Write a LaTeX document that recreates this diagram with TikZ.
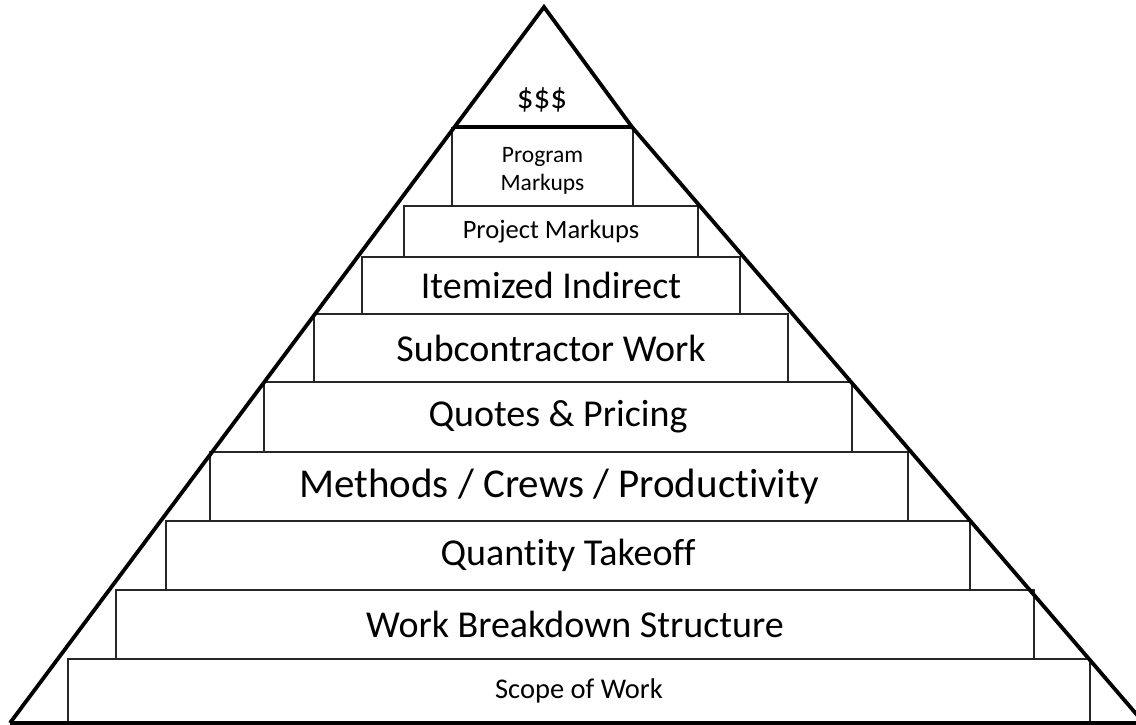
\documentclass[tikz,border=0pt]{standalone}
\usepackage{fontspec}
\setmainfont{Carlito}[Ligatures=NoCommon]
\begin{document}
\begin{tikzpicture}[x=1pt,y=-1pt,
  tier/.style={draw=black!85, line width=1.2pt, fill=white, inner sep=0pt,
    anchor=center, align=center, font=\fontsize{38}{44}\selectfont},
  edge/.style={line width=3.8pt, line join=miter, line cap=butt}]
\useasboundingbox (0,0) rectangle (1136,725);
% tiers, bottom to top
\node[tier, minimum width=1022pt, minimum height=64pt, font=\fontsize{28.5}{34}\selectfont] (scope) at (579,691) {Scope of Work};
\node[tier, minimum width=918pt, minimum height=69pt] (wbs) at (575,624.5) {Work Breakdown Structure};
\node[tier, minimum width=804pt, minimum height=69pt] (qto) at (568,555.5) {Quantity Takeoff};
\node[tier, minimum width=698pt, minimum height=69pt, font=\fontsize{41}{47}\selectfont] (mcp) at (559,486.5) {Methods / Crews / Productivity};
\node[tier, minimum width=588pt, minimum height=70pt] (qp) at (558,417) {Quotes \& Pricing};
\node[tier, minimum width=474pt, minimum height=68pt] (sub) at (551,348) {Subcontractor Work};
\node[tier, minimum width=378pt, minimum height=57pt] (ind) at (551,285.5) {Itemized Indirect};
\node[tier, minimum width=294pt, minimum height=51pt, font=\fontsize{26.5}{30}\selectfont] (prj) at (551,231.5) {Project Markups};
\node[tier, minimum width=181pt, minimum height=78pt] (prg) at (542.5,167) {};
\node[align=center, inner sep=0pt, font=\fontsize{23.5}{28}\selectfont] (prgtext) at (542.5,171) {Program\\Markups};
% pyramid outline
\coordinate (apex) at (544,7);
\coordinate (bl) at (10,723);
\coordinate (kink) at (632,127);
\coordinate (br) at (1144,723);
\coordinate (capl) at (455,127);
\begin{scope}
\clip (0,0) rectangle (1136,725);
\draw[edge] (bl) -- (apex) -- (kink) -- (br);
\draw[edge] (bl) -- (1140,723);
\draw[edge] (capl) -- (kink);
\end{scope}
\node[font=\fontsize{33}{38}\selectfont] (top) at (542,100) {\$\$\$};
\end{tikzpicture}
\end{document}
